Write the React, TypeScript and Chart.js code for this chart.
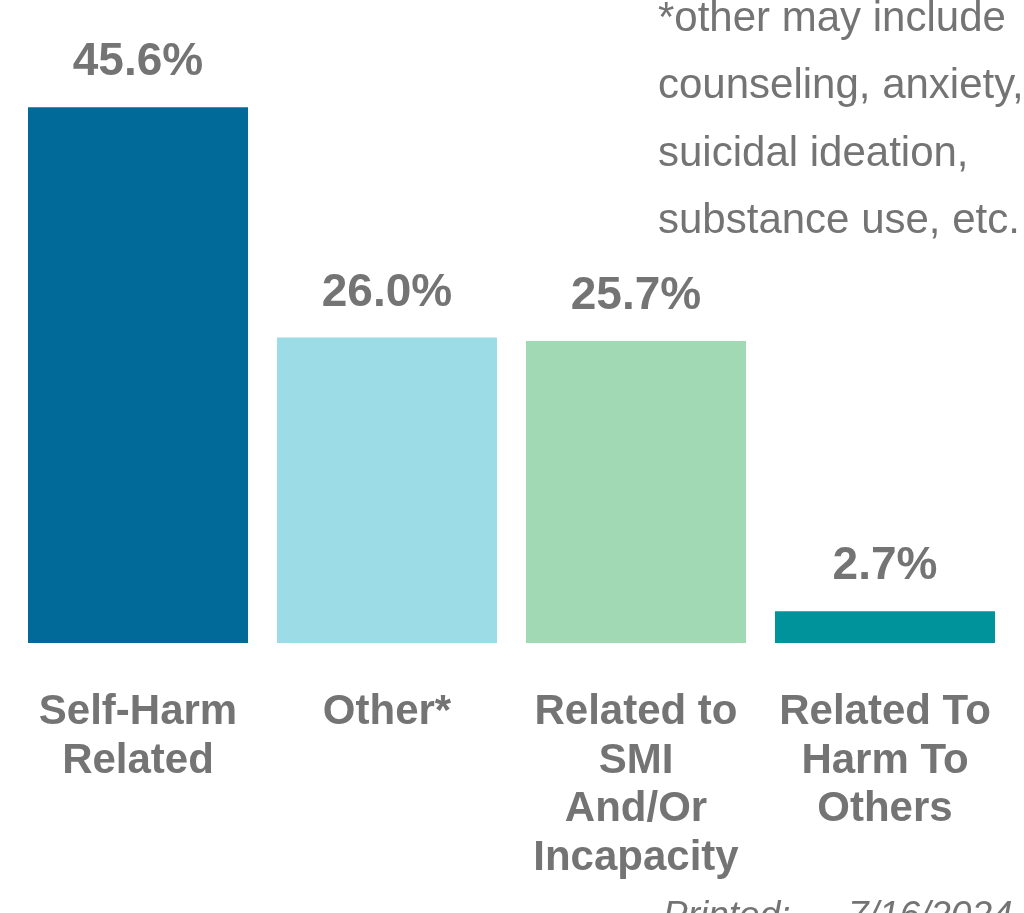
import React, { useEffect, useRef } from "react";
import { Chart, registerables } from "chart.js";

Chart.register(...registerables);

const categories: string[][] = [
  ["Self-Harm", "Related"],
  ["Other*"],
  ["Related to", "SMI", "And/Or", "Incapacity"],
  ["Related To", "Harm To", "Others"],
];
const values: number[] = [45.6, 26.0, 25.7, 2.7];
const barColors: string[] = ["#016a99", "#9bdce7", "#a1d9b5", "#00939c"];
const footnoteLines: string[] = [
  "*other may include",
  "counseling, anxiety,",
  "suicidal ideation,",
  "substance use, etc.",
];
const printedLabel = "Printed:";
const printedDate = "7/16/2024";

const GREY = "#747474";
const FONT = "'Liberation Sans', Arial, sans-serif";

const valueLabelPlugin = {
  id: "valueLabels",
  afterDatasetsDraw(chart: any) {
    const ctx = chart.ctx;
    const meta = chart.getDatasetMeta(0);
    ctx.save();
    ctx.font = `bold 46px ${FONT}`;
    ctx.fillStyle = GREY;
    ctx.textAlign = "center";
    ctx.textBaseline = "alphabetic";
    meta.data.forEach((bar: any, i: number) => {
      ctx.fillText(values[i].toFixed(1) + "%", bar.x, bar.y - 32);
    });
    ctx.restore();
  },
};

export default function App() {
  const ref = useRef<HTMLCanvasElement | null>(null);
  useEffect(() => {
    if (!ref.current) return;
    const chart = new Chart(ref.current, {
      type: "bar",
      data: {
        labels: categories,
        datasets: [
          {
            data: values,
            backgroundColor: barColors,
            borderWidth: 0,
            categoryPercentage: 1,
            barPercentage: 0.8835,
          },
        ],
      },
      options: {
        responsive: false,
        animation: false,
        devicePixelRatio: 1,
        layout: { padding: { left: 13.5, right: 14.5, top: 55.5, bottom: 0 } },
        plugins: {
          legend: { display: false },
          tooltip: { enabled: false },
          title: { display: false },
        },
        scales: {
          y: { display: false, min: 0, max: 50 },
          x: {
            grid: { display: false, drawTicks: false },
            border: { display: false },
            afterFit: (scale: any) => {
              scale.height = 270;
              scale.paddingLeft = 0;
              scale.paddingRight = 0;
            },
            ticks: {
              padding: 45,
              color: GREY,
              maxRotation: 0,
              autoSkip: false,
              font: { family: FONT, size: 42, weight: "bold", lineHeight: 1.16 },
            },
          },
        },
      },
      plugins: [valueLabelPlugin],
    });
    return () => chart.destroy();
  }, []);

  return (
    <div
      style={{
        position: "absolute",
        left: 0,
        top: 0,
        width: 1024,
        height: 913,
        overflow: "hidden",
        background: "#ffffff",
      }}
    >
      <canvas
        ref={ref}
        width={1024}
        height={913}
        style={{ position: "absolute", left: 0, top: 0, width: 1024, height: 913 }}
      />
      <div
        style={{
          position: "absolute",
          left: 658,
          top: -17,
          fontFamily: FONT,
          fontSize: 42,
          lineHeight: "67.3px",
          color: GREY,
          whiteSpace: "nowrap",
        }}
      >
        {footnoteLines.map((l, i) => (
          <div key={i}>{l}</div>
        ))}
      </div>
      <div
        style={{
          position: "absolute",
          left: 663,
          top: 894,
          fontFamily: FONT,
          fontSize: 37,
          lineHeight: "normal",
          fontStyle: "italic",
          color: GREY,
          whiteSpace: "nowrap",
        }}
      >
        <span>{printedLabel}</span>
        <span style={{ position: "absolute", left: 185 }}>{printedDate}</span>
      </div>
    </div>
  );
}
